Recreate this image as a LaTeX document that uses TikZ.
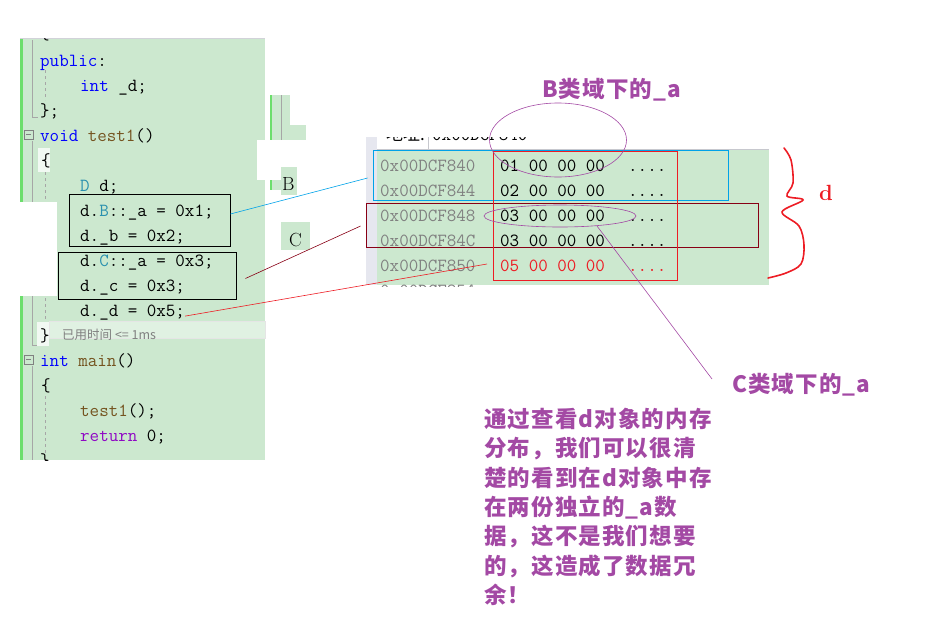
\documentclass[tikz,border=0pt]{standalone}
\usepackage{fontspec}
\usetikzlibrary{shapes.geometric}
\newfontfamily\cjk{Noto Sans CJK SC}
\newfontfamily\cjknote[LetterSpace=5]{Noto Sans CJK SC}
\definecolor{codebg}{RGB}{204,232,207}
\definecolor{gutgreen}{RGB}{108,222,108}
\definecolor{kwblue}{RGB}{0,0,255}
\definecolor{typeteal}{RGB}{43,145,175}
\definecolor{funcbrown}{RGB}{116,83,31}
\definecolor{kwpurple}{RGB}{143,8,196}
\definecolor{addrgray}{RGB}{128,128,128}
\definecolor{notepurple}{RGB}{163,73,164}
\definecolor{linkblue}{RGB}{0,162,232}
\definecolor{darkred}{RGB}{136,0,21}
\definecolor{markred}{RGB}{237,28,36}
\definecolor{panelgray}{RGB}{230,231,239}

\begin{document}
\begin{tikzpicture}[x=1pt,y=-1pt,
  code/.style={anchor=base west, inner sep=0pt, font=\ttfamily\fontsize{18.5}{20}\selectfont},
  addr/.style={code, text=addrgray},
  note/.style={anchor=base west, inner sep=0pt, text=notepurple, font=\cjknote\bfseries\fontsize{22.5}{29.3}\selectfont},
  codebox/.style={draw=black, line width=0.8pt, inner sep=0pt},
  memrect/.style={draw, line width=0.8pt, inner sep=0pt},
  ring/.style={ellipse, draw=notepurple, line width=0.6pt, inner sep=0pt},
  gutter/.style={draw=gray!70, line width=0.6pt}]
\useasboundingbox (0,0) rectangle (925,640);

% code panel
\fill[codebg] (20,38) rectangle (265,460);
\fill[gutgreen] (20,38) rectangle (23,202);
\fill[gutgreen] (20,296) rectangle (23,460);
\draw[panelgray!80!gray, line width=1pt] (20,38) -- (265,38);
\fill[codebg!60!white] (49,321) rectangle (265,338);
\draw[white!80!gray, line width=0.5pt] (49,321) rectangle (265,338);
\draw[gutter] (32,40) -- (32,117) -- (38,117);
\draw[gutter] (32,141) -- (32,345) -- (38,345);
\draw[gutter] (32,366) -- (32,460);
\draw[gutter, dashed] (45,70) -- (45,100);
\draw[gutter, dashed] (45,172) -- (45,320);
\draw[gutter, dashed] (45,396) -- (45,456);
\draw[gray] (24,130) rectangle (33,139);
\draw[gray] (26,134.5) -- (31,134.5);
\draw[gray] (24,355) rectangle (33,364);
\draw[gray] (26,359.5) -- (31,359.5);
\fill[white] (20,202) rectangle (57,296);
\fill[white] (257,140) rectangle (305,180);

% pieces next to the code
\fill[codebg] (270,95) rectangle (290,125);
\fill[codebg] (270,125) rectangle (306,140);
\fill[codebg] (270,180) rectangle (290,190);
\fill[codebg] (281,167) rectangle (297,195);
\fill[codebg] (281,222) rectangle (310,250);
\draw[gutgreen, line width=2pt] (271,95) -- (271,140);
\draw[gutgreen, line width=2pt] (271,180) -- (271,190);
\draw[gutter] (281,95) -- (281,140);
\node[anchor=base west, inner sep=0pt, font=\fontsize{19}{20}\selectfont] (nameB) at (282,190) {B};
\node[anchor=base west, inner sep=0pt, font=\fontsize{19}{20}\selectfont] (nameC) at (289,246) {C};

% code lines
\begin{scope}
\clip (20,38) rectangle (265,460);
\node[code] (lopen) at (40,39) {\{};
\node[code] (lpub) at (40,66) {{\color{kwblue}public}:};
\node[code] (lint) at (80,91) {{\color{kwblue}int} \_d;};
\node[code] (lend) at (40,116) {\};};
\node[code] (ltest) at (40,141) {{\color{kwblue}void} {\color{funcbrown}test1}()};
\fill[white!75!codebg] (38,148) rectangle (50,172);
\node[code] (lbrace) at (41,166) {\{};
\node[code] (ldecl) at (80,191) {{\color{typeteal}D} d;};
\node[code] (lba) at (80,216) {d.{\color{typeteal}B}::\_a = 0x1;};
\node[code] (lbb) at (80,241) {d.\_b = 0x2;};
\node[code] (lca) at (80,266) {d.{\color{typeteal}C}::\_a = 0x3;};
\node[code] (lcc) at (80,291) {d.\_c = 0x3;};
\node[code] (ldd) at (80,316) {d.\_d = 0x5;};
\fill[white!75!codebg] (37,322) rectangle (49,346);
\node[code] (lclose) at (40,341) {\}};
\node[anchor=base west, inner sep=0pt, text=gray, font=\cjk\fontsize{12.5}{14}\selectfont] (ltime) at (62,339) {已用时间 <= 1ms};
\node[code] (lmain) at (40,366) {{\color{kwblue}int} {\color{funcbrown}main}()};
\node[code] (lbrace2) at (41,391) {\{};
\node[code] (lcall) at (80,416) {{\color{funcbrown}test1}();};
\node[code] (lret) at (80,441) {{\color{kwpurple}return} 0;};
\node[code] (lclose2) at (40,466) {\}};
\end{scope}

\node[codebox, minimum width=161, minimum height=52] (boxB) at (149.5,220) {};
\node[codebox, minimum width=178, minimum height=47] (boxC) at (147,275.5) {};

% memory panel
\fill[panelgray] (366,137) rectangle (377,285);
\fill[white] (377,137) rectangle (769,149);
\draw[panelgray!70!gray, line width=0.6pt] (377,149) -- (769,149);
\draw[panelgray!70!gray, line width=0.6pt] (428,137) -- (428,149);
\fill[codebg] (377,150) rectangle (769,285);
\begin{scope}
\clip (377,137) rectangle (769,148);
\node[anchor=base west, inner sep=0pt, font=\cjk\fontsize{17}{18}\selectfont] (hdr) at (386,140) {地址:};
\node[code] (hdraddr) at (432,140) {0x00DCF840};
\end{scope}
\node[addr] (a1) at (380,171) {0x00DCF840};
\node[addr] (a2) at (380,196) {0x00DCF844};
\node[addr] (a3) at (380,221) {0x00DCF848};
\node[addr] (a4) at (380,246) {0x00DCF84C};
\node[addr] (a5) at (380,271) {0x00DCF850};
\node[code] (b1) at (500,171) {01 00 00 00};
\node[code] (b2) at (500,196) {02 00 00 00};
\node[code] (b3) at (500,221) {03 00 00 00};
\node[code] (b4) at (500,246) {03 00 00 00};
\node[code, text=markred] (b5) at (500,271) {05 00 00 00};
\node[code] (c1) at (628,171) {....};
\node[code] (c2) at (628,196) {....};
\node[code] (c3) at (628,221) {....};
\node[code] (c4) at (628,246) {....};
\node[code, text=markred] (c5) at (628,271) {....};
\begin{scope}
\clip (377,283) rectangle (769,286);
\node[addr] (a6) at (380,296) {0x00DCF854};
\node[code] (c6) at (628,296) {oooo};
\end{scope}

\node[memrect, draw=linkblue, minimum width=355, minimum height=50] (memB) at (550.5,175) {};
\node[memrect, draw=darkred, minimum width=392, minimum height=44] (memC) at (562,225) {};
\node[memrect, draw=markred, minimum width=184, minimum height=129] (memD) at (585,215.5) {};

\node[ring, minimum width=137, minimum height=74] (ringB) at (558,140) {};
\node[ring, minimum width=152, minimum height=22] (ringC) at (560,216) {};

% notes
\node[note] (labB) at (542,97) {B类域下的\_a};
\node[note, anchor=west] (labC) at (732,385) {C类域下的\_a};
\node[note, anchor=north west, align=left] (text) at (484,408) {通过查看d对象的内存\\分布，我们可以很清\\楚的看到在d对象中存\\在两份独立的\_a数\\据，这不是我们想要\\的，这造成了数据冗\\余！};
\node[anchor=base west, inner sep=0pt, text=markred, font=\bfseries\fontsize{22}{24}\selectfont] (labD) at (819,200) {d};

\draw[markred, line width=1.6pt, line cap=round] plot[smooth, tension=0.55] coordinates {(784,148) (791,160) (793,183) (787,196) (803,200) (782,212) (799,226) (804,245) (801,264) (786,273) (768,278)};

% connectors
\coordinate (tipD) at (487,264);
\draw[linkblue, line width=0.6pt] ([yshift=6pt]boxB.east) -- ([xshift=-5pt,yshift=-3pt]memB.west);
\draw[darkred, line width=0.6pt] ([xshift=9pt,yshift=-3pt]boxC.east) -- ([xshift=-5pt,yshift=-1pt]memC.west);
\draw[markred, line width=0.6pt] ([yshift=-4pt]ldd.east) -- (tipD);
\draw[notepurple, line width=0.6pt] (ringC.-15) -- ([xshift=-20pt,yshift=6pt]labC.west);
\end{tikzpicture}
\end{document}
